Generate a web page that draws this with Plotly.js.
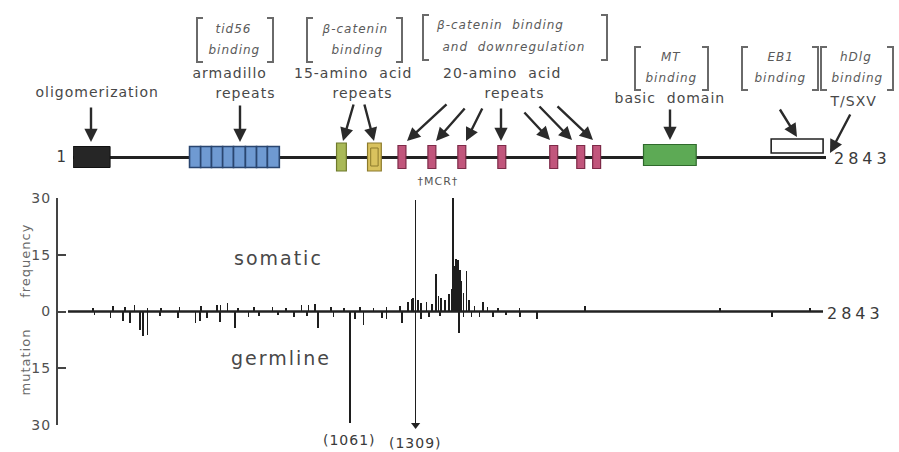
<!DOCTYPE html>
<html>
<head>
<meta charset="utf-8">
<script src="https://cdn.plot.ly/plotly-3.0.1.min.js"></script>
<style>html,body{margin:0;padding:0;background:#fff;}#chart{width:899px;height:452px;}</style>
</head>
<body>
<div id="chart"></div>
<script>
// ---------------- DATA ----------------
const proteinLength = 2843;
// protein domains (codon positions)
const oligoStart = [1];
const oligoEnd = [140];
const armStart = [440, 482, 523, 565, 606, 651, 693, 734];
const armEnd   = [482, 523, 565, 606, 651, 693, 734, 779];
const aa15Start = [995, 1112];
const aa15End   = [1032, 1164];
const aa20Start = [1227, 1340, 1453, 1604, 1800, 1902, 1962];
const aa20End   = [1257, 1370, 1483, 1634, 1830, 1932, 1992];
const basicStart = [2154];
const basicEnd   = [2353];
const eb1Start = [2636];
const eb1End   = [2832];

// mutation frequency (somatic up, germline down)
const somaticPos = [95, 170, 215, 250, 300, 350, 420, 500, 560, 575, 600, 640, 700, 770, 820, 880, 905, 930, 990, 1040, 1100, 1150, 1200, 1250,
  1280, 1295, 1300, 1309, 1318, 1330, 1350, 1370, 1386, 1395, 1405, 1420, 1435, 1445, 1450, 1456, 1462, 1468, 1475, 1482, 1490, 1500, 1510, 1530, 1563, 1580, 1620, 1700, 1947, 2455, 2794];
const somaticVal = [0.8, 1.5, 1.2, 1.8, 1.0, 0.8, 1.2, 1.5, 1.8, 1.6, 2.2, 1.0, 1.2, 1.3, 1.0, 1.6, 1.8, 2.0, 1.2, 1.0, 1.3, 1.0, 1.2, 1.5,
  2.5, 3.2, 3.5, 29.6, 3.0, 2.2, 2.5, 2.0, 9.8, 4.0, 3.5, 3.0, 4.5, 6.0, 30.0, 12.0, 13.8, 13.5, 11.0, 8.0, 5.0, 10.6, 3.0, 1.5, 2.6, 1.2, 1.0, 0.8, 1.5, 1.0, 0.8];
const germlinePos = [100, 160, 208, 233, 271, 282, 300, 346, 415, 480, 497, 523, 572, 629, 680, 720, 790, 850, 900, 941, 1000, 1061, 1080, 1112,
  1182, 1200, 1257, 1309, 1330, 1360, 1400, 1472, 1490, 1520, 1550, 1600, 1650, 1702, 1766, 2651];
const germlineVal = [0.8, 1.7, 2.6, 3.1, 5.0, 6.5, 6.3, 1.3, 1.7, 3.0, 2.5, 1.7, 2.8, 4.4, 1.5, 1.2, 1.0, 1.5, 1.2, 4.4, 1.5, 29.5, 2.0, 3.5,
  1.7, 2.0, 3.0, 30.0, 2.0, 1.5, 1.2, 5.6, 1.5, 1.5, 1.5, 1.5, 1.0, 1.5, 2.0, 1.5];
const yTickVals = [30, 15, 0, -15, -30];
const yTickText = ['30', '15', '0', '15', '30'];

// ---------------- STYLE / LAYOUT ----------------
const W = 899, H = 452;
const FONT = 'DejaVu Sans, Verdana, sans-serif';
const TXT = '#484848';
const P = x => x / W;
const Q = y => 1 - y / H;
const LINE_Y = 157;

function hbar(starts, ends, yc, h, fill, lineColor, lw) {
  return {
    type: 'bar', orientation: 'h', xaxis: 'x2', yaxis: 'y2',
    base: starts, x: starts.map((s, i) => ends[i] - s), y: starts.map(() => yc),
    width: h, marker: {color: fill, line: {color: lineColor, width: lw}},
    hoverinfo: 'skip'
  };
}

const traces = [];
// protein backbone (drawn as a thin bar so the domain boxes cover it)
traces.push(hbar([0], [proteinLength], LINE_Y, 3, '#222', '#222', 0));
traces.push(hbar(oligoStart, oligoEnd, LINE_Y, 21, '#262626', '#111', 1));
traces.push(hbar(armStart, armEnd, LINE_Y, 21, '#6f9ad2', '#2a4670', 1.6));
traces.push(hbar([aa15Start[0]], [aa15End[0]], LINE_Y, 28, '#a9b957', '#6f7a2c', 1.2));
traces.push(hbar([aa15Start[1]], [aa15End[1]], LINE_Y, 28, '#d9c25e', '#8c7a2c', 1.2));
traces.push(hbar([aa15Start[1] + 12], [aa15End[1] - 12], LINE_Y, 18, 'rgba(0,0,0,0)', '#8c7a2c', 1));
traces.push(hbar(aa20Start, aa20End, LINE_Y, 23, '#c1567c', '#7d2a48', 1.2));
traces.push(hbar(basicStart, basicEnd, LINE_Y - 2, 21, '#5daa55', '#2f6a2c', 1.2));
traces.push(hbar(eb1Start, eb1End, LINE_Y - 11, 14, '#ffffff', '#222', 1.6));

// mutation plot baseline
traces.push({type: 'scatter', mode: 'lines', xaxis: 'x', yaxis: 'y', x: [0, proteinLength], y: [0, 0],
  line: {color: '#222', width: 2.6}, hoverinfo: 'skip'});
traces.push({type: 'bar', xaxis: 'x', yaxis: 'y', x: somaticPos, y: somaticVal, width: 6,
  marker: {color: '#1e1e1e', line: {width: 0}}, hoverinfo: 'skip'});
traces.push({type: 'bar', xaxis: 'x', yaxis: 'y', x: germlinePos, y: germlineVal.map(v => -v), width: 6,
  marker: {color: '#1e1e1e', line: {width: 0}}, hoverinfo: 'skip'});
// off-scale arrow tip on the largest germline value
const gMaxIdx = germlineVal.indexOf(Math.max(...germlineVal));
traces.push({type: 'scatter', mode: 'markers', xaxis: 'x', yaxis: 'y', cliponaxis: false,
  x: [germlinePos[gMaxIdx]], y: [-germlineVal[gMaxIdx]],
  marker: {symbol: 'triangle-down', size: 8, color: '#222'}, hoverinfo: 'skip'});

// ---------- annotations ----------
const ann = [];
function label(text, x, y, size, opt) {
  opt = opt || {};
  ann.push({xref: 'paper', yref: 'paper', x: P(x), y: Q(y), text: text, showarrow: false,
    xanchor: opt.xanchor || 'center', yanchor: 'middle', textangle: opt.angle || 0,
    font: {family: FONT, size: size, color: opt.color || TXT, style: opt.italic ? 'italic' : 'normal'}});
}
function arrow(tipX, tipY, tailX, tailY) {
  ann.push({xref: 'paper', yref: 'paper', x: P(tipX), y: Q(tipY), ax: tailX - tipX, ay: tailY - tipY,
    text: '', showarrow: true, arrowhead: 2, arrowsize: 1.1, arrowwidth: 2.4, arrowcolor: '#2a2a2a'});
}
const shapes = [];
function bracket(x0, x1, y0, y1) {
  const s = 6;
  const L = `M ${P(x0 + s)},${Q(y0)} L ${P(x0)},${Q(y0)} L ${P(x0)},${Q(y1)} L ${P(x0 + s)},${Q(y1)}`;
  const R = `M ${P(x1 - s)},${Q(y0)} L ${P(x1)},${Q(y0)} L ${P(x1)},${Q(y1)} L ${P(x1 - s)},${Q(y1)}`;
  [L, R].forEach(p => shapes.push({type: 'path', xref: 'paper', yref: 'paper', path: p,
    line: {color: '#6a6a6a', width: 2}}));
}
const IT = '#5a5a5a';

label('1', 62, 157, 15, {color: '#3a3a3a'});
label('2843', 862, 158, 16, {color: '#3a3a3a'});
label('oligomerization', 97, 92, 14);
arrow(91, 142, 91, 106);

bracket(197, 273, 18, 62);
label('tid56', 234, 29, 12, {italic: true, color: IT});
label('binding', 235, 50, 12, {italic: true, color: IT});
label('armadillo', 229, 73, 14);
label('repeats', 245, 93, 14);
arrow(240, 142, 240, 104);

bracket(307, 402, 18, 62);
label('β-catenin', 355, 29, 12, {italic: true, color: IT});
label('binding', 357, 50, 12, {italic: true, color: IT});
label('15-amino  acid', 353, 73, 14);
label('repeats', 362, 93, 14);
arrow(343, 141, 354, 103);
arrow(374, 141, 364, 103);

bracket(423, 607, 15, 60);
label('β-catenin  binding', 500, 25, 12, {italic: true, color: IT});
label('and  downregulation', 514, 47, 12, {italic: true, color: IT});
label('20-amino  acid', 502, 73, 14);
label('repeats', 514, 93, 14);
arrow(407, 141, 448, 103);
arrow(436, 141, 466, 107);
arrow(466, 141, 483, 107);
arrow(501, 141, 501, 107);
arrow(550, 140, 523, 111);
arrow(572, 140, 538, 105);
arrow(593, 140, 556, 105);
label('†MCR†', 438, 181, 11, {color: '#555'});

bracket(635, 708, 47, 90);
label('MT', 671, 57, 12, {italic: true, color: IT});
label('binding', 671, 78, 12, {italic: true, color: IT});
label('basic  domain', 670, 98, 14);
arrow(670, 140, 670, 108);

bracket(742, 818, 47, 90);
label('EB1', 780, 57, 12, {italic: true, color: IT});
label('binding', 780, 78, 12, {italic: true, color: IT});
bracket(821, 893, 47, 90);
label('hDlg', 856, 57, 12, {italic: true, color: IT});
label('binding', 857, 78, 12, {italic: true, color: IT});
label('T/SXV', 853, 101, 14);
arrow(797, 137, 779, 108);
arrow(830, 153, 851, 113);

// lower panel text
label('somatic', 278, 258, 19);
label('germline', 281, 358, 19);
label('2843', 855, 313, 16, {color: '#3a3a3a'});
label('mutation' + '\u00a0'.repeat(6) + 'frequency', 25, 310, 13, {angle: -90, color: '#6a6a6a'});
// labels for the two largest germline peaks
const gOrder = germlineVal.map((v, i) => i).sort((a, b) => germlineVal[b] - germlineVal[a]).slice(0, 2);
gOrder.forEach(i => {
  ann.push({xref: 'x', yref: 'paper', x: germlinePos[i], y: Q(germlinePos[i] < 1200 ? 440 : 443),
    text: '(' + germlinePos[i] + ')', showarrow: false, xanchor: 'center', yanchor: 'middle',
    font: {family: FONT, size: 14, color: '#3a3a3a'}});
});

const layout = {
  width: W, height: H, margin: {l: 0, r: 0, t: 0, b: 0},
  paper_bgcolor: '#fff', plot_bgcolor: 'rgba(0,0,0,0)',
  showlegend: false, barmode: 'overlay', bargap: 0,
  xaxis: {domain: [P(58), P(823)], range: [-37.6, proteinLength], visible: false, anchor: 'y', fixedrange: true},
  yaxis: {domain: [Q(425), Q(198)], range: [-30, 30], anchor: 'x',
    tickvals: yTickVals, ticktext: yTickText, ticks: 'inside', ticklen: 8, tickwidth: 2, tickcolor: '#444',
    showline: true, linecolor: '#444', linewidth: 2, showgrid: false, zeroline: false,
    ticklabelstandoff: 2, tickfont: {family: FONT, size: 14, color: '#505050'}},
  xaxis2: {domain: [P(73), P(826)], range: [0, proteinLength], visible: false, anchor: 'y2', fixedrange: true},
  yaxis2: {domain: [Q(180), 1], range: [180, 0], visible: false, anchor: 'x2', fixedrange: true},
  annotations: ann, shapes: shapes
};

const SPACING = {'2843': '4px', 'somatic': '2px', 'germline': '2px'};
Plotly.newPlot('chart', traces, layout, {staticPlot: true, displayModeBar: false}).then(() => {
  document.querySelectorAll('.annotation-text').forEach(el => {
    el.style.letterSpacing = SPACING[el.textContent] || '1px';
  });
  document.querySelectorAll('.ytick text').forEach(el => { el.style.letterSpacing = '1px'; });
});
</script>
</body>
</html>
